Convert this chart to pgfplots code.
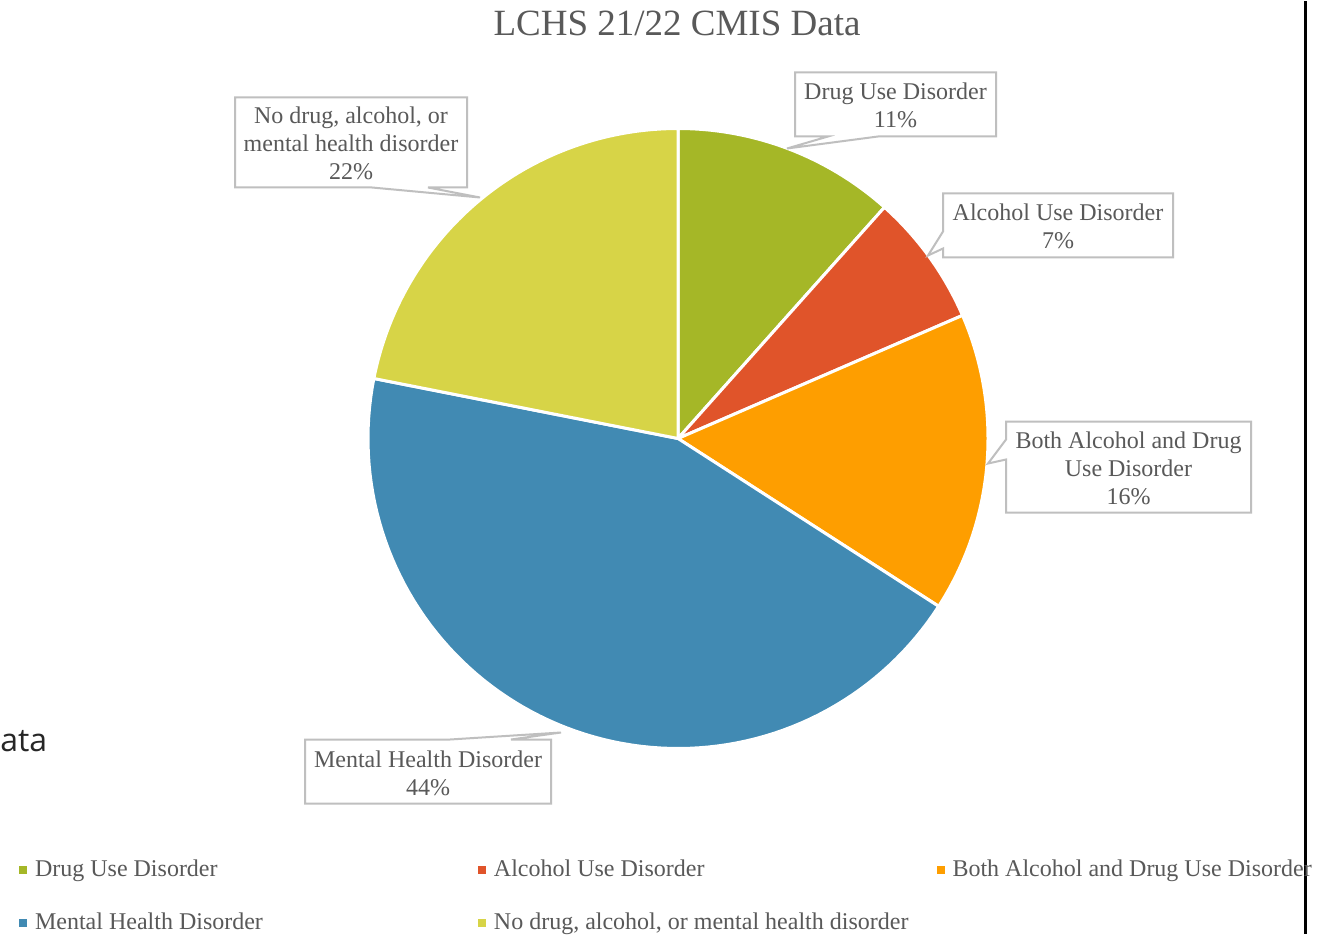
\documentclass[border=0pt]{standalone}
\usepackage{fontspec}
\setmainfont{Liberation Serif}
\newfontfamily\slidefont{Open Sans}
\usepackage{pgfplots}
\usepackage{pgfplotstable}
\pgfplotsset{compat=1.18}
\definecolor{cdrug}{HTML}{A5B727}
\definecolor{calc}{HTML}{E0542A}
\definecolor{cboth}{HTML}{FE9E00}
\definecolor{cmental}{HTML}{418AB3}
\definecolor{cnone}{HTML}{D7D447}
\definecolor{txt}{HTML}{595959}
\definecolor{bx}{HTML}{BFBFBF}

% shares in percent
\pgfplotstableread{
label  value
drug   11.6
alc    6.9
both   15.6
mental 44.0
none   21.9
}\piedata

\begin{document}
\begin{tikzpicture}
% cumulative angles, clockwise from 12 o'clock
\pgfplotstablegetelem{0}{value}\of\piedata \let\vA\pgfplotsretval
\pgfplotstablegetelem{1}{value}\of\piedata \let\vB\pgfplotsretval
\pgfplotstablegetelem{2}{value}\of\piedata \let\vC\pgfplotsretval
\pgfplotstablegetelem{3}{value}\of\piedata \let\vD\pgfplotsretval
\pgfplotstablegetelem{4}{value}\of\piedata \let\vE\pgfplotsretval
\pgfmathsetmacro\aA{90}
\pgfmathsetmacro\aB{\aA-3.6*\vA}
\pgfmathsetmacro\aC{\aB-3.6*\vB}
\pgfmathsetmacro\aD{\aC-3.6*\vC}
\pgfmathsetmacro\aE{\aD-3.6*\vD}
\pgfmathsetmacro\aF{\aE-3.6*\vE}
\begin{axis}[
  width=660.5pt, height=466pt, scale only axis,
  xmin=0, xmax=1321, ymin=0, ymax=932,
  hide axis, clip=false,
  legend columns=3,
  legend image code/.code={\fill[#1,draw=none] (0pt,-2pt) rectangle (4pt,2pt);},
  legend style={draw=none, fill=none, inner sep=0pt, outer sep=0pt,
    at={(0.0144,0.0805)}, anchor=north west,
    font=\fontsize{12}{14}\selectfont, text=txt,
    nodes={inner sep=0pt, text height=9pt, text depth=3pt},
    /tikz/every odd column/.append style={column sep=4pt},
    /tikz/column 2/.append style={column sep=107.5pt},
    /tikz/column 4/.append style={column sep=14pt},
    row sep=14.5pt},
  legend cell align=left,
  pie/.style={draw=white, line width=1.5pt, line join=round, samples=90},
]
\fill[white] (rel axis cs:0,0) rectangle (rel axis cs:1,1);

\addplot[pie, fill=cdrug, domain=\aB:\aA] ({678+310*cos(x)},{495+310*sin(x)}) -- (axis cs:678,495) -- cycle;
\addlegendentry{Drug Use Disorder}
\addplot[pie, fill=calc, domain=\aC:\aB] ({678+310*cos(x)},{495+310*sin(x)}) -- (axis cs:678,495) -- cycle;
\addlegendentry{Alcohol Use Disorder}
\addplot[pie, fill=cboth, domain=\aD:\aC] ({678+310*cos(x)},{495+310*sin(x)}) -- (axis cs:678,495) -- cycle;
\addlegendentry{Both Alcohol and Drug Use Disorder}
\addplot[pie, fill=cmental, domain=\aE:\aD] ({678+310*cos(x)},{495+310*sin(x)}) -- (axis cs:678,495) -- cycle;
\addlegendentry{Mental Health Disorder}
\addplot[pie, fill=cnone, domain=\aF:\aE] ({678+310*cos(x)},{495+310*sin(x)}) -- (axis cs:678,495) -- cycle;
\addlegendentry{No drug, alcohol, or mental health disorder}

% callout boxes
\begin{scope}[draw=bx, fill=white, line width=1pt, line join=miter]
\filldraw (axis cs:795,861) -- (axis cs:996,861) -- (axis cs:996,797) -- (axis cs:878,797) -- (axis cs:787,785) -- (axis cs:828,797) -- (axis cs:795,797) -- cycle;
\filldraw (axis cs:943,740) -- (axis cs:1173,740) -- (axis cs:1173,676) -- (axis cs:943,676) -- (axis cs:943,685) -- (axis cs:928,678) -- (axis cs:943,702) -- cycle;
\filldraw (axis cs:1006,512) -- (axis cs:1251,512) -- (axis cs:1251,421) -- (axis cs:1006,421) -- (axis cs:1006,474) -- (axis cs:988,470) -- (axis cs:1006,494) -- cycle;
\filldraw (axis cs:305,194) -- (axis cs:450,194) -- (axis cs:561,201) -- (axis cs:511,194) -- (axis cs:551,194) -- (axis cs:551,130) -- (axis cs:305,130) -- cycle;
\filldraw (axis cs:235,836) -- (axis cs:467,836) -- (axis cs:467,746) -- (axis cs:428,746) -- (axis cs:480,736) -- (axis cs:372,746) -- (axis cs:235,746) -- cycle;
\end{scope}

\begin{scope}[every node/.style={text=txt, align=center, inner sep=0pt,
    font=\fontsize{12}{14}\selectfont}]
\node at (axis cs:895.5,828) {Drug Use Disorder\\11\%};
\node at (axis cs:1058,707.5) {Alcohol Use Disorder\\7\%};
\node at (axis cs:1128.5,465.5) {Both Alcohol and Drug\\Use Disorder\\16\%};
\node at (axis cs:428,160.5) {Mental Health Disorder\\44\%};
\node at (axis cs:351,790.5) {No drug, alcohol, or\\mental health disorder\\22\%};
\end{scope}

\node[text=txt, inner sep=0pt, font=\fontsize{18.5}{20}\selectfont] at (axis cs:677,910) {LCHS 21/22 CMIS Data};

% slide fragments around the chart
\node[anchor=base west, inner sep=0pt, text=black!85, font=\slidefont\fontsize{16}{16}\selectfont] at (axis cs:0,182) {ata};
\draw[black, line width=1.5pt] (axis cs:1305,0) -- (axis cs:1305,932);
\end{axis}
\end{tikzpicture}
\end{document}
